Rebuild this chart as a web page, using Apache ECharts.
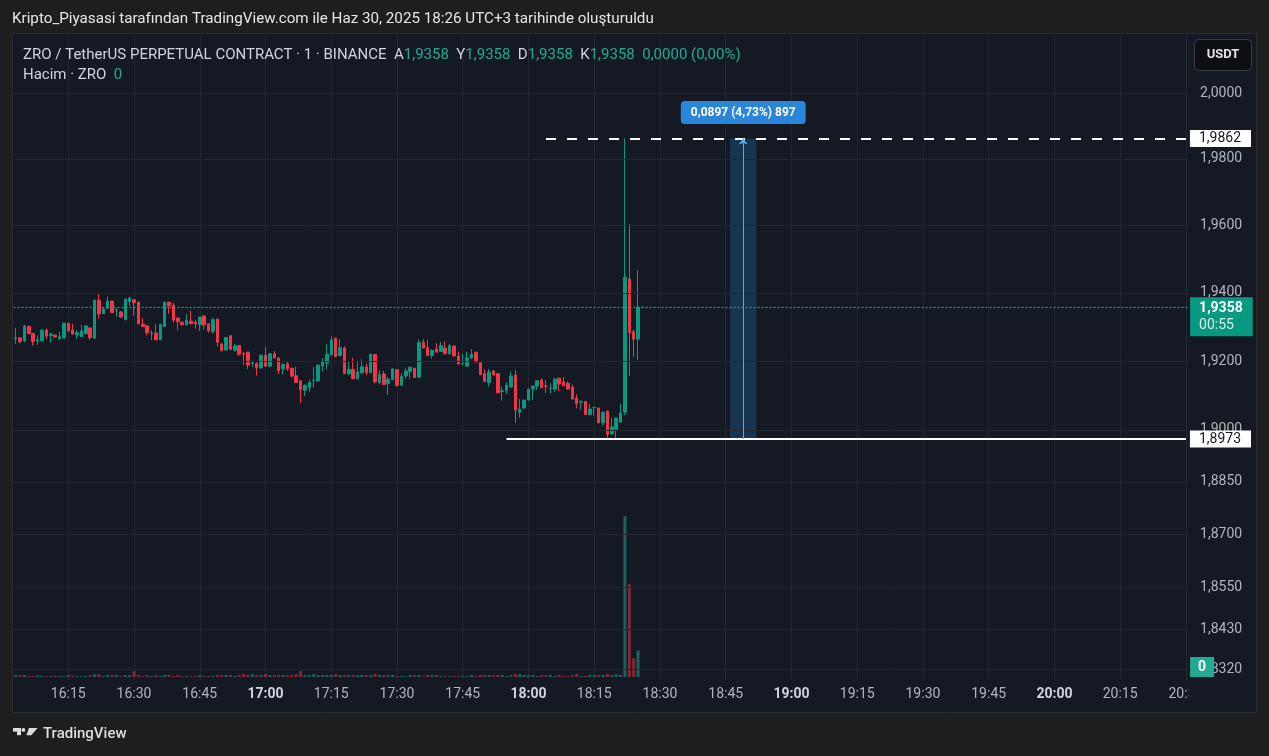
<!DOCTYPE html>
<html><head><meta charset="utf-8">
<script src="https://cdn.jsdelivr.net/npm/echarts@6/dist/echarts.min.js"></script>
<style>html,body{margin:0;padding:0;background:#1e1e1e;}#c{width:1269px;height:756px;}</style>
</head><body><div id="c"></div>
<script>
// ---------- data ----------
const startMinute = 16 * 60 + 3;   // 16:03, first candle
const minuteCount = 268;           // axis runs to 20:30
// [open, close, low, high] per 1-minute candle
const ohlc = [
[1.9266,1.9268,1.9250,1.9298],[1.9268,1.9257,1.9251,1.9268],[1.9259,1.9302,1.9255,1.9306],[1.9302,1.9280,1.9279,1.9303],
[1.9281,1.9257,1.9245,1.9282],[1.9259,1.9262,1.9247,1.9275],[1.9259,1.9290,1.9259,1.9294],[1.9291,1.9273,1.9264,1.9295],
[1.9275,1.9279,1.9254,1.9283],[1.9276,1.9270,1.9269,1.9277],[1.9265,1.9271,1.9264,1.9285],[1.9268,1.9311,1.9267,1.9312],
[1.9311,1.9288,1.9286,1.9312],[1.9291,1.9279,1.9278,1.9309],[1.9276,1.9283,1.9265,1.9291],[1.9271,1.9288,1.9270,1.9306],
[1.9280,1.9303,1.9279,1.9305],[1.9297,1.9268,1.9262,1.9298],[1.9267,1.9379,1.9265,1.9380],[1.9379,1.9338,1.9324,1.9397],
[1.9339,1.9353,1.9338,1.9357],[1.9355,1.9376,1.9354,1.9389],[1.9376,1.9342,1.9341,1.9377],[1.9350,1.9351,1.9330,1.9355],
[1.9344,1.9329,1.9327,1.9347],[1.9321,1.9382,1.9320,1.9383],[1.9374,1.9385,1.9362,1.9389],[1.9380,1.9371,1.9333,1.9382],
[1.9373,1.9309,1.9308,1.9374],[1.9308,1.9301,1.9300,1.9327],[1.9303,1.9283,1.9276,1.9304],[1.9280,1.9282,1.9261,1.9290],
[1.9282,1.9262,1.9261,1.9308],[1.9262,1.9308,1.9261,1.9309],[1.9301,1.9373,1.9300,1.9374],[1.9373,1.9362,1.9339,1.9374],
[1.9364,1.9320,1.9312,1.9372],[1.9326,1.9315,1.9291,1.9327],[1.9314,1.9306,1.9305,1.9315],[1.9306,1.9320,1.9305,1.9338],
[1.9317,1.9309,1.9308,1.9347],[1.9314,1.9309,1.9295,1.9320],[1.9306,1.9329,1.9288,1.9330],[1.9332,1.9306,1.9292,1.9335],
[1.9309,1.9288,1.9283,1.9310],[1.9287,1.9321,1.9280,1.9327],[1.9323,1.9255,1.9242,1.9324],[1.9250,1.9230,1.9229,1.9251],
[1.9232,1.9269,1.9231,1.9270],[1.9274,1.9234,1.9233,1.9276],[1.9232,1.9244,1.9227,1.9250],[1.9245,1.9220,1.9215,1.9246],
[1.9221,1.9220,1.9188,1.9227],[1.9226,1.9188,1.9177,1.9227],[1.9193,1.9195,1.9183,1.9201],[1.9192,1.9180,1.9157,1.9197],
[1.9181,1.9217,1.9176,1.9218],[1.9217,1.9185,1.9184,1.9241],[1.9185,1.9221,1.9184,1.9222],[1.9221,1.9209,1.9208,1.9229],
[1.9209,1.9172,1.9162,1.9210],[1.9177,1.9190,1.9160,1.9193],[1.9192,1.9177,1.9171,1.9198],[1.9179,1.9156,1.9151,1.9180],
[1.9157,1.9137,1.9136,1.9183],[1.9142,1.9116,1.9078,1.9143],[1.9115,1.9129,1.9098,1.9132],[1.9122,1.9137,1.9110,1.9145],
[1.9143,1.9144,1.9122,1.9182],[1.9142,1.9188,1.9139,1.9190],[1.9185,1.9197,1.9169,1.9208],[1.9194,1.9220,1.9176,1.9250],
[1.9218,1.9262,1.9217,1.9273],[1.9267,1.9213,1.9212,1.9268],[1.9216,1.9239,1.9215,1.9264],[1.9238,1.9163,1.9162,1.9243],
[1.9163,1.9175,1.9159,1.9197],[1.9175,1.9148,1.9147,1.9210],[1.9148,1.9168,1.9147,1.9198],[1.9165,1.9183,1.9164,1.9205],
[1.9183,1.9166,1.9159,1.9193],[1.9166,1.9220,1.9165,1.9221],[1.9219,1.9139,1.9134,1.9221],[1.9137,1.9161,1.9132,1.9172],
[1.9162,1.9131,1.9130,1.9171],[1.9134,1.9147,1.9101,1.9154],[1.9145,1.9177,1.9144,1.9178],[1.9175,1.9129,1.9125,1.9176],
[1.9130,1.9155,1.9126,1.9165],[1.9156,1.9171,1.9148,1.9179],[1.9169,1.9182,1.9148,1.9183],[1.9179,1.9152,1.9151,1.9180],
[1.9153,1.9254,1.9152,1.9264],[1.9255,1.9238,1.9237,1.9264],[1.9239,1.9216,1.9215,1.9262],[1.9216,1.9231,1.9207,1.9234],
[1.9235,1.9226,1.9225,1.9252],[1.9228,1.9245,1.9227,1.9255],[1.9238,1.9221,1.9220,1.9258],[1.9221,1.9245,1.9220,1.9250],
[1.9244,1.9215,1.9214,1.9245],[1.9215,1.9191,1.9190,1.9228],[1.9191,1.9192,1.9189,1.9221],[1.9185,1.9209,1.9184,1.9228],
[1.9209,1.9220,1.9206,1.9235],[1.9226,1.9197,1.9196,1.9227],[1.9195,1.9160,1.9159,1.9196],[1.9163,1.9140,1.9139,1.9176],
[1.9137,1.9168,1.9125,1.9177],[1.9171,1.9159,1.9158,1.9174],[1.9163,1.9107,1.9106,1.9164],[1.9111,1.9113,1.9084,1.9125],
[1.9113,1.9130,1.9104,1.9138],[1.9124,1.9156,1.9123,1.9169],[1.9159,1.9057,1.9020,1.9174],[1.9051,1.9060,1.9035,1.9089],
[1.9063,1.9086,1.9062,1.9087],[1.9086,1.9118,1.9085,1.9119],[1.9119,1.9127,1.9086,1.9128],[1.9127,1.9142,1.9115,1.9143],
[1.9144,1.9122,1.9121,1.9150],[1.9127,1.9126,1.9106,1.9144],[1.9120,1.9121,1.9106,1.9135],[1.9118,1.9147,1.9110,1.9151],
[1.9150,1.9133,1.9113,1.9151],[1.9139,1.9128,1.9127,1.9153],[1.9135,1.9118,1.9117,1.9140],[1.9124,1.9089,1.9088,1.9131],
[1.9092,1.9075,1.9062,1.9103],[1.9080,1.9081,1.9057,1.9085],[1.9082,1.9044,1.9043,1.9083],[1.9044,1.9060,1.9043,1.9075],
[1.9064,1.9065,1.9041,1.9066],[1.9063,1.9020,1.9019,1.9064],[1.9020,1.9051,1.9012,1.9052],[1.9054,1.8986,1.8975,1.9055],
[1.8988,1.9008,1.8987,1.9034],[1.9001,1.9034,1.8973,1.9035],[1.9022,1.9049,1.9021,1.9075],[1.9051,1.9447,1.9043,1.9862],
[1.9441,1.9283,1.9156,1.9605],[1.9286,1.9264,1.9212,1.9291],[1.9264,1.9358,1.9203,1.9468],[1.9358,1.9358,1.9358,1.9358]
];
// volume per candle (thousand ZRO, estimated)
const volumes = [
12,11,12,6,6,11,6,5,6,6, 6,6,12,6,6,5,6,11,17,16, 6,12,11,12,6,12,11,35,12,6,
12,6,11,6,12,12,6,11,6,6, 5,6,12,6,6,6,12,11,12,12, 6,12,18,12,17,11,12,18,12,11,
12,12,11,12,18,36,12,11,17,12, 12,11,12,18,12,11,12,12,11,12, 12,11,18,12,12,11,12,6,6,5,
12,11,12,6,12,11,12,6,6,5, 6,6,5,6,12,6,11,12,12,11, 12,12,6,11,18,17,12,11,12,6,
12,11,12,6,12,6,6,11,18,6, 6,12,11,12,12,18,12,17,12,964, 556,112,160,0
];
const priceTicks = [2.0, 1.98, 1.96, 1.94, 1.92, 1.90, 1.885, 1.87, 1.855, 1.843, 1.832];
const priceMin = 1.82894, priceMax = 2.01775;   // visible price range (log scale)
const volumeMax = 3850;
const lastPrice = 1.9358;
const countdown = '00:55';
const levelHigh = 1.9862, levelLow = 1.8973;
const highLineFrom = '18:04', lowLineFrom = '17:55';
const measureFrom = '18:46', measureMid = '18:49', measureTo = '18:52';
const measureChange = 0.0897, measurePct = 4.73, measureTicks = 897;

// ---------- build ----------
const pad = n => String(n).padStart(2, '0');
const categories = [];
for (let k = 0; k < minuteCount; k++) {
  const m = startMinute + k;
  categories.push(pad(Math.floor(m / 60)) + ':' + pad(m % 60));
}
const axisEnd = categories[categories.length - 1];
const fmt = v => v.toFixed(4).replace('.', ',');
const UP = '#089981', DOWN = '#f23645';
const FONT = 'Roboto, "Noto Sans", sans-serif';
const GRID = '#22262f';
const isQuarter = (idx, val) => parseInt(val.slice(3), 10) % 15 === 0;
const volData = volumes.map((v, i) => ({
  value: v,
  itemStyle: { color: ohlc[i][1] >= ohlc[i][0] ? 'rgba(34,171,148,0.5)' : 'rgba(242,54,69,0.5)' }
}));
const last = ohlc[ohlc.length - 1];
const chg = last[1] - last[0];
const legendRich = {
  l: { color: '#d1d4dc', fontSize: 15, fontFamily: FONT, fontWeight: 'normal' },
  v: { color: '#22ab94', fontSize: 15, fontFamily: FONT, fontWeight: 'normal' }
};

const chart = echarts.init(document.getElementById('c'), null, { renderer: 'canvas', width: 1269, height: 756 });
const option = {
  backgroundColor: '#1e1e1e',
  animation: false,
  textStyle: { fontFamily: FONT },
  title: [
    { text: 'Kripto_Piyasasi tarafından TradingView.com ile Haz 30, 2025 18:26 UTC+3 tarihinde oluşturuldu',
      left: 12, top: 12, padding: 0,
      textStyle: { color: '#e6e6e6', fontSize: 15.2, fontWeight: 'normal', fontFamily: FONT } },
    { text: '{l|ZRO / TetherUS PERPETUAL CONTRACT · 1 · BINANCE}  {l|A}{v|' + fmt(last[0]) + '}  {l|Y}{v|' + fmt(last[3]) +
            '}  {l|D}{v|' + fmt(last[2]) + '}  {l|K}{v|' + fmt(last[1]) + '}  {v|' + fmt(chg) + ' (0,00%)}',
      left: 23, top: 48, padding: 0,
      textStyle: { fontFamily: FONT, fontWeight: 'normal', fontSize: 15, rich: legendRich } },
    { text: '{l|Hacim · ZRO}  {v|' + volumes[volumes.length - 1] + '}',
      left: 23, top: 68, padding: 0,
      textStyle: { fontFamily: FONT, fontWeight: 'normal', fontSize: 15, rich: legendRich } }
  ],
  graphic: [
    { type: 'rect', z: -10, silent: true, shape: { x: 12.5, y: 33.5, width: 1244, height: 679 },
      style: { fill: '#151924', stroke: '#2d2d2d', lineWidth: 1 } },
    { type: 'rect', z: 50, silent: true, shape: { x: 1188.5, y: 681, width: 67, height: 31 }, style: { fill: '#151924' } },
    { type: 'rect', z: 50, shape: { x: 1194.5, y: 39.5, width: 57, height: 31, r: 4 }, style: { fill: '#0e0f12', stroke: '#3b3e46', lineWidth: 1 } },
    { type: 'text', z: 51, x: 1223, y: 55, style: { text: 'USDT', fill: '#e0e3eb', font: 'bold 13px ' + FONT, align: 'center', verticalAlign: 'middle' } },
    { type: 'rect', z: 50, shape: { x: 13, y: 728, width: 8, height: 3.6 }, style: { fill: '#dedede' } },
    { type: 'rect', z: 50, shape: { x: 17, y: 728, width: 4, height: 7.2 }, style: { fill: '#dedede' } },
    { type: 'circle', z: 50, shape: { cx: 23.4, cy: 729.9, r: 1.9 }, style: { fill: '#dedede' } },
    { type: 'polygon', z: 50, shape: { points: [[29, 728], [37.6, 728], [31.2, 735.2], [26.4, 735.2]] }, style: { fill: '#dedede' } },
    { type: 'text', z: 50, x: 43, y: 734, style: { text: 'TradingView', fill: '#dedede', font: '500 15px ' + FONT, verticalAlign: 'middle' } }
  ],
  grid: [
    { left: 13.5, right: 80.9, top: 35, bottom: 76 },
    { left: 13.5, right: 80.9, top: 35, bottom: 79 }
  ],
  xAxis: [
    { type: 'category', gridIndex: 0, data: categories, boundaryGap: true,
      axisLine: { show: false }, axisTick: { show: false },
      axisLabel: { interval: isQuarter, color: '#b2b5be', fontSize: 14, margin: 7, fontFamily: FONT,
        formatter: v => v.slice(3) === '00' ? '{b|' + v + '}' : v,
        rich: { b: { fontWeight: 'bold', color: '#d1d4dc', fontSize: 14, fontFamily: FONT } } },
      splitLine: { show: true, interval: isQuarter, alignWithLabel: true, lineStyle: { color: GRID, width: 1 } } },
    { type: 'category', gridIndex: 1, data: categories, boundaryGap: true, show: false }
  ],
  yAxis: [
    { type: 'log', logBase: 10, gridIndex: 0, position: 'right', min: priceMin, max: priceMax,
      axisLine: { show: false }, axisTick: { show: false }, axisLabel: { show: false }, splitLine: { show: false } },
    { type: 'value', gridIndex: 1, min: 0, max: volumeMax, show: false, splitLine: { show: false } }
  ],
  series: [
    { type: 'line', name: 'grid', xAxisIndex: 0, yAxisIndex: 0, data: [], silent: true, z: 1, clip: false,
      markLine: { silent: true, symbol: ['none', 'none'], animation: false, precision: 6,
        lineStyle: { color: GRID, width: 1, type: 'solid' },
        label: { show: true, position: 'end', distance: 12, color: '#b2b5be', fontSize: 14, fontFamily: FONT,
          formatter: '{b}' },
        data: priceTicks.map(v => ({ yAxis: v, name: fmt(v) })) } },
    { type: 'bar', name: 'Hacim', xAxisIndex: 1, yAxisIndex: 1, data: volData, barWidth: 3, z: 2, clip: false,
      markLine: { silent: true, symbol: ['none', 'none'], animation: false, precision: 6,
        lineStyle: { color: 'rgba(0,0,0,0)', width: 0 },
        label: { show: true, position: 'end', distance: 2, formatter: String(volumes[volumes.length - 1]),
          backgroundColor: '#22ab94', color: '#ffffff', fontWeight: 'bold', fontSize: 14, fontFamily: FONT,
          padding: [3, 8, 3, 8], verticalAlign: 'bottom' },
        data: [{ yAxis: volumes[volumes.length - 1] }] } },
    { type: 'candlestick', name: 'ZRO', xAxisIndex: 0, yAxisIndex: 0, data: ohlc, barWidth: 3, z: 3, clip: false,
      itemStyle: { color: UP, color0: DOWN, borderColor: UP, borderColor0: DOWN, borderWidth: 1 },
      markArea: { silent: true, itemStyle: { color: 'rgba(33,150,243,0.22)' },
        data: [[{ xAxis: measureFrom, yAxis: levelLow }, { xAxis: measureTo, yAxis: levelHigh }]] },
      markPoint: { silent: true, symbol: 'circle', symbolSize: 1, itemStyle: { color: 'rgba(0,0,0,0)' },
        label: { show: true, position: 'top', distance: 14, backgroundColor: '#2a86d9', color: '#ffffff',
          fontSize: 12, fontWeight: 'bold', fontFamily: FONT, padding: [6, 10, 5, 10], borderRadius: 4,
          formatter: fmt(measureChange) + ' (' + measurePct.toFixed(2).replace('.', ',') + '%) ' + measureTicks },
        data: [{ coord: [measureMid, levelHigh] }] },
      markLine: { silent: true, symbol: ['none', 'none'], animation: false, precision: 6,
        data: [
          [{ xAxis: highLineFrom, yAxis: levelHigh,
             lineStyle: { color: '#ffffff', width: 2, type: [10, 11] },
             label: { show: true, position: 'end', distance: 4, formatter: fmt(levelHigh), color: '#131722',
               backgroundColor: '#ffffff', fontSize: 14, fontFamily: FONT, padding: [2, 10, 1, 9] } },
           { xAxis: axisEnd, yAxis: levelHigh }],
          [{ xAxis: lowLineFrom, yAxis: levelLow,
             lineStyle: { color: '#ffffff', width: 2, type: 'solid' },
             label: { show: true, position: 'end', distance: 4, formatter: fmt(levelLow), color: '#131722',
               backgroundColor: '#ffffff', fontSize: 14, fontFamily: FONT, padding: [2, 10, 1, 9] } },
           { xAxis: axisEnd, yAxis: levelLow }],
          [{ xAxis: measureMid, yAxis: levelLow, lineStyle: { color: '#5aa6f0', width: 1, type: 'solid' },
             label: { show: false } },
           { xAxis: measureMid, yAxis: levelHigh, symbol: 'arrow', symbolSize: [7, 6] }],
          { yAxis: lastPrice, lineStyle: { color: '#10a58c', width: 1.2, type: [2, 2] },
            label: { show: true, position: 'end', distance: 2, backgroundColor: UP, padding: [3, 10, 2, 9],
              verticalAlign: 'top', offset: [0, -10],
              formatter: '{a|' + fmt(lastPrice) + '}\n{b|' + countdown + '}',
              rich: { a: { color: '#ffffff', fontSize: 14, fontFamily: FONT, lineHeight: 17, fontWeight: 'bold' },
                      b: { color: '#d8f0ea', fontSize: 14, fontFamily: FONT, lineHeight: 17 } } } }
        ] } }
  ]
};
chart.setOption(option);
</script>
</body></html>
